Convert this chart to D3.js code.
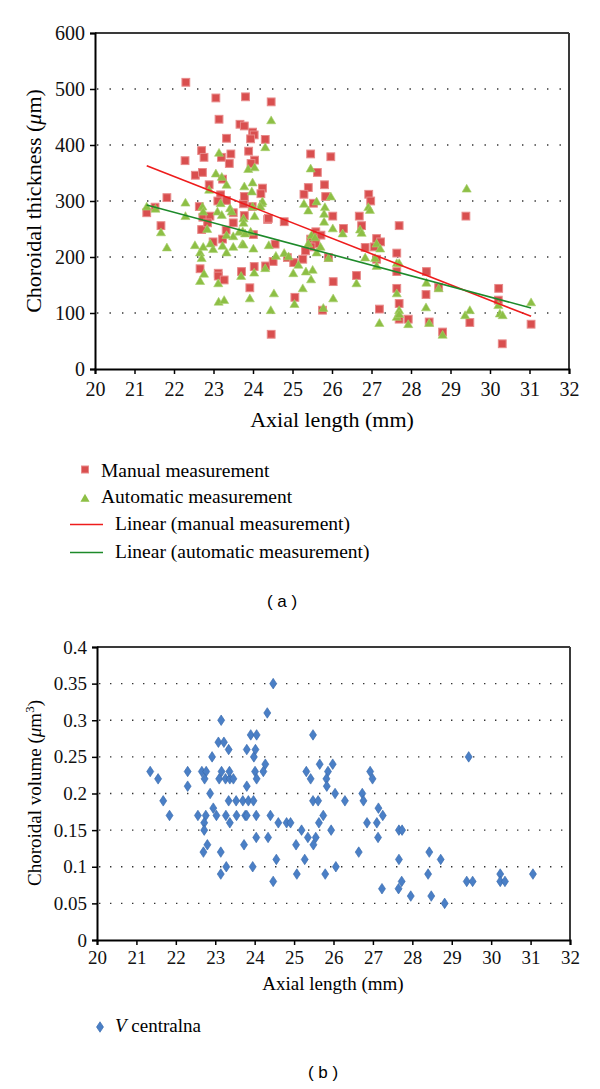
<!DOCTYPE html>
<html><head><meta charset="utf-8">
<script src="https://cdn.jsdelivr.net/npm/d3@7"></script>
<style>
body{margin:0;background:#fff;}
</style></head>
<body><svg id="c" width="600" height="1089" font-family="Liberation Serif, Times New Roman, serif"></svg>
<script>
// ---------- DATA ----------
const manualX = [21.31,21.52,21.67,21.82,22.30,22.28,22.54,22.72,22.70,22.76,22.64,22.70,22.73,22.91,22.85,22.89,22.66,23.12,23.12,23.27,22.99,23.23,23.32,23.50,23.50,23.78,23.76,24.01,23.71,24.03,23.92,24.32,24.46,24.37,24.79,24.56,24.51,24.87,25.03,25.06,23.98,23.06,23.81,24.46,23.14,23.67,23.78,23.99,24.03,23.94,24.31,23.33,23.20,23.44,23.40,23.89,24.04,23.95,23.23,24.24,24.20,23.18,23.78,23.33,23.11,24.39,25.46,25.97,25.63,25.40,25.29,25.81,25.84,25.53,26.93,26.98,29.39,26.02,26.69,26.75,26.29,27.70,25.59,25.72,25.46,25.59,25.47,25.33,25.91,25.26,26.03,25.76,26.62,26.84,27.13,27.23,27.07,27.13,27.64,27.64,27.64,27.70,27.70,27.93,27.20,28.39,28.38,28.70,28.46,28.80,29.49,30.22,30.21,30.31,31.04];
const manualY = [279,289,256,306,512,372,346,351,390,378,290,249,271,273,261,329,179,171,166,159,227,232,248,261,279,274,295,240,174,183,145,184,62,267,263,223,192,199,190,128,290,484,486,477,446,437,434,423,418,411,410,412,378,384,367,389,373,367,339,323,313,311,308,301,300,269,384,379,351,324,312,329,308,296,312,300,273,273,273,256,251,256,245,239,232,224,218,211,199,196,156,105,167,217,233,227,218,196,207,174,144,117,89,89,107,174,133,146,84,66,83,144,123,45,80];
const autoX = [21.31,21.53,21.67,21.82,22.29,22.29,22.53,22.66,22.70,22.74,22.66,22.76,22.84,22.99,22.92,23.12,23.13,23.27,23.23,23.33,23.50,23.50,23.74,23.73,23.76,23.70,23.92,23.94,24.01,24.03,24.31,24.40,24.53,24.45,24.58,24.79,24.90,25.02,25.05,25.15,24.04,24.22,24.46,24.31,23.14,23.88,24.04,23.06,23.21,23.33,22.89,23.78,23.99,23.97,23.18,23.42,24.24,24.19,22.72,22.74,23.10,23.21,23.46,23.76,23.76,23.99,23.33,23.65,23.80,25.46,25.61,25.97,25.29,25.40,25.82,25.80,25.80,26.92,26.96,29.41,26.02,26.27,26.71,26.75,25.48,25.57,25.40,25.61,25.71,25.34,25.51,25.47,25.26,25.78,25.91,26.03,26.62,26.84,27.13,27.22,27.09,27.13,27.20,27.64,27.70,27.64,27.70,27.64,27.70,27.93,28.39,28.38,28.46,28.70,28.80,29.37,29.49,30.21,30.25,30.32,31.04];
const autoY = [290,286,244,217,273,297,221,208,198,218,157,170,250,214,224,153,120,123,220,208,218,237,246,223,222,166,126,245,215,172,180,221,135,105,202,207,201,171,116,186,273,296,444,396,386,357,360,349,343,329,320,326,333,317,296,287,299,290,290,281,281,275,281,269,261,290,239,245,242,358,299,308,295,283,289,277,263,289,284,322,251,242,249,243,239,235,224,208,218,174,177,160,144,109,198,126,153,199,224,215,198,184,82,189,189,135,105,93,98,80,154,110,82,144,61,96,105,114,99,96,119];
const manualTrendX = [21.31, 31.04];
const manualTrendY = [363, 94];
const autoTrendX = [21.31, 31.04];
const autoTrendY = [293, 109];
const thicknessTicks = [0,100,200,300,400,500,600];
const axialTicks = [20,21,22,23,24,25,26,27,28,29,30,31,32];

const volX = [21.35,21.55,21.68,21.84,22.30,22.30,22.56,22.66,22.77,22.73,22.87,22.95,22.92,23.08,23.22,23.15,23.34,23.10,23.26,23.37,23.46,23.16,23.36,23.34,23.53,23.70,23.84,23.97,23.80,23.90,24.05,23.98,24.02,24.01,24.05,23.80,24.27,24.22,24.32,24.47,25.48,25.65,25.98,25.31,25.86,26.93,25.42,25.82,26.99,25.83,26.04,26.73,25.48,25.61,26.29,26.76,27.14,22.76,23.03,23.27,23.54,23.76,23.80,24.04,24.40,25.74,27.25,22.72,23.37,24.60,24.81,24.91,25.63,26.85,27.10,22.72,25.19,25.94,27.66,27.74,24.04,24.34,25.35,25.55,27.13,22.80,23.73,25.05,25.49,22.70,23.14,26.64,28.43,24.55,25.27,27.66,28.72,23.28,23.95,26.06,23.14,25.07,25.79,28.40,30.23,31.06,24.47,27.73,29.38,29.53,30.23,30.35,27.65,27.23,27.96,28.48,28.82,29.43];
const volY = [0.23,0.22,0.19,0.17,0.23,0.21,0.17,0.23,0.23,0.22,0.20,0.18,0.25,0.27,0.27,0.30,0.26,0.22,0.22,0.22,0.22,0.23,0.23,0.19,0.19,0.19,0.19,0.19,0.26,0.28,0.28,0.25,0.26,0.23,0.22,0.21,0.24,0.23,0.31,0.35,0.28,0.24,0.24,0.23,0.23,0.23,0.22,0.22,0.22,0.21,0.20,0.20,0.19,0.19,0.19,0.19,0.18,0.17,0.17,0.17,0.17,0.17,0.17,0.17,0.17,0.17,0.17,0.16,0.16,0.16,0.16,0.16,0.16,0.16,0.16,0.15,0.15,0.15,0.15,0.15,0.14,0.14,0.14,0.14,0.14,0.13,0.13,0.13,0.13,0.12,0.12,0.12,0.12,0.11,0.11,0.11,0.11,0.10,0.10,0.10,0.09,0.09,0.09,0.09,0.09,0.09,0.08,0.08,0.08,0.08,0.08,0.08,0.07,0.07,0.06,0.06,0.05,0.25];
const volumeTicks = [0,0.05,0.1,0.15,0.2,0.25,0.3,0.35,0.4];
const volumeTickLabels = ["0","0.05","0.1","0.15","0.2","0.25","0.3","0.35","0.4"];

// ---------- DRAW ----------
const SERIF = "Liberation Serif, Times New Roman, serif";
const SANS = "Liberation Sans, Arial, sans-serif";
const svg = d3.select("#c");

function frame(g, x, y, gridVals, yTickVals, yLabels, dash, fs, xpad){
  const [x0,x1] = x.range(), [y0,y1] = y.range(); // y0 bottom
  g.selectAll("line.grid").data(gridVals).join("line")
    .attr("x1", x0+2).attr("x2", x1-2)
    .attr("y1", d=>y(d)).attr("y2", d=>y(d))
    .attr("stroke","#333").attr("stroke-width",1.4)
    .attr("stroke-dasharray", dash);
  g.append("line").attr("x1",x0).attr("x2",x1).attr("y1",y1).attr("y2",y1).attr("stroke","#3a3a3a").attr("stroke-width",2);
  g.append("line").attr("x1",x1).attr("x2",x1).attr("y1",y1).attr("y2",y0).attr("stroke","#3a3a3a").attr("stroke-width",2);
  const ax = d3.axisBottom(x).tickValues(axialTicks).tickSize(5).tickPadding(xpad).tickFormat(d3.format("d"));
  const gx = g.append("g").attr("transform",`translate(0,${y0})`).call(ax);
  gx.attr("font-family", SERIF);
  gx.select(".domain").attr("stroke","#000").attr("stroke-width",2);
  gx.selectAll(".tick line").attr("stroke","#000").attr("stroke-width",1.5);
  gx.selectAll("text").attr("font-size",fs).attr("fill","#111");
  const ay = d3.axisLeft(y).tickValues(yTickVals).tickSize(5).tickPadding(5).tickFormat((d,i)=>yLabels[i]);
  const gy = g.append("g").attr("transform",`translate(${x0},0)`).call(ay);
  gy.attr("font-family", SERIF);
  gy.select(".domain").attr("stroke","#000").attr("stroke-width",2);
  gy.selectAll(".tick line").attr("stroke","#000").attr("stroke-width",1.5);
  gy.selectAll("text").attr("font-size",fs).attr("fill","#111");
}

// ===== Chart A =====
const xA = d3.scaleLinear([20,32],[95,569]);
const yA = d3.scaleLinear([0,600],[369,33]);
const gA = svg.append("g");
frame(gA, xA, yA, thicknessTicks.slice(1,-1), thicknessTicks, thicknessTicks.map(String), "1.4 11.1", 20, 8);

const manual = manualX.map((x,i)=>({x, y:manualY[i]}));
const auto = autoX.map((x,i)=>({x, y:autoY[i]}));

gA.selectAll("rect.m").data(manual).join("rect")
  .attr("x",d=>xA(d.x)-3.9).attr("y",d=>yA(d.y)-3.9).attr("width",7.8).attr("height",7.8)
  .attr("fill","#d94f4f").attr("stroke","#e88a8a").attr("stroke-width",1);
const tri = d3.symbol().type(d3.symbolTriangle).size(36);
gA.selectAll("path.a").data(auto).join("path")
  .attr("d",tri).attr("transform",d=>`translate(${xA(d.x)},${yA(d.y)+0.8})`)
  .attr("fill","#8dbf45").attr("stroke","#a9d06e").attr("stroke-width",0.6);

const line = d3.line().x(d=>xA(d[0])).y(d=>yA(d[1]));
gA.append("path").attr("d", line(manualTrendX.map((x,i)=>[x,manualTrendY[i]])))
  .attr("stroke","#ee1c1c").attr("stroke-width",1.6).attr("fill","none");
gA.append("path").attr("d", line(autoTrendX.map((x,i)=>[x,autoTrendY[i]])))
  .attr("stroke","#1d8a2a").attr("stroke-width",1.6).attr("fill","none");

const tA = gA.append("text").attr("transform","translate(41,201) rotate(-90)").attr("text-anchor","middle").attr("font-size",22);
tA.append("tspan").text("Choroidal thickness (");
tA.append("tspan").attr("font-style","italic").text("μ");
tA.append("tspan").text("m)");
gA.append("text").attr("x",332).attr("y",427).attr("text-anchor","middle").attr("font-size",22).text("Axial length (mm)");

const legA = gA.append("g");
legA.append("rect").attr("x",81.5).attr("y",466).attr("width",7).attr("height",7).attr("fill","#d94f4f").attr("stroke","#e88a8a");
legA.append("text").attr("x",101).attr("y",477).attr("font-size",19.5).text("Manual measurement");
legA.append("path").attr("d",tri).attr("transform","translate(85,499)").attr("fill","#8dbf45");
legA.append("text").attr("x",101).attr("y",503).attr("font-size",19.5).text("Automatic measurement");
legA.append("line").attr("x1",70).attr("x2",103).attr("y1",524.5).attr("y2",524.5).attr("stroke","#ee1c1c").attr("stroke-width",1.6);
legA.append("text").attr("x",115).attr("y",530).attr("font-size",19.5).text("Linear (manual measurement)");
legA.append("line").attr("x1",70).attr("x2",103).attr("y1",552.5).attr("y2",552.5).attr("stroke","#1d8a2a").attr("stroke-width",1.6);
legA.append("text").attr("x",115).attr("y",558).attr("font-size",19.5).text("Linear (automatic measurement)");
gA.append("text").attr("x",282).attr("y",607).attr("text-anchor","middle").attr("font-size",17)
  .attr("font-family",SANS).text("( a )");

// ===== Chart B =====
const xB = d3.scaleLinear([20,32],[97,570]);
const yB = d3.scaleLinear([0,0.4],[940,647]);
const gB = svg.append("g");
frame(gB, xB, yB, volumeTicks.slice(1,-1), volumeTicks, volumeTickLabels, "1.4 9.6", 19, 6);

const vol = volX.map((x,i)=>({x, y:volY[i]}));
const dia = d3.symbol().type(d3.symbolDiamond).size(32);
gB.selectAll("path.v").data(vol).join("path")
  .attr("d",dia).attr("transform",d=>`translate(${xB(d.x)},${yB(d.y)}) scale(1.15,1)`)
  .attr("fill","#4a7fc6").attr("stroke","#3869ad").attr("stroke-width",0.6);

const tB = gB.append("text").attr("transform","translate(41,793) rotate(-90)").attr("text-anchor","middle").attr("font-size",19);
tB.append("tspan").text("Choroidal volume (");
tB.append("tspan").attr("font-style","italic").text("μ");
tB.append("tspan").text("m");
tB.append("tspan").attr("dy",-7).attr("font-size",13).text("3");
tB.append("tspan").attr("dy",7).text(")");
gB.append("text").attr("x",333).attr("y",990).attr("text-anchor","middle").attr("font-size",19).text("Axial length (mm)");

gB.append("path").attr("d",dia).attr("transform","translate(100,1027) scale(1.15,1)").attr("fill","#4a7fc6").attr("stroke","#3869ad").attr("stroke-width",0.6);
const lb = gB.append("text").attr("x",115).attr("y",1032).attr("font-size",19);
lb.append("tspan").attr("font-style","italic").text("V");
lb.append("tspan").text(" centralna");
gB.append("text").attr("x",323).attr("y",1078).attr("text-anchor","middle").attr("font-size",17)
  .attr("font-family",SANS).text("( b )");
</script></body></html>
